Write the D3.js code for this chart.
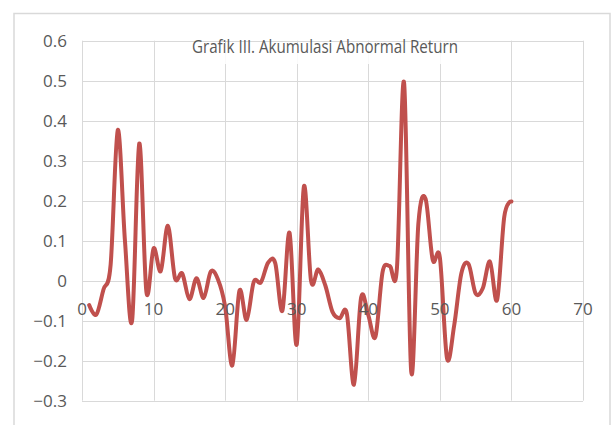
<!DOCTYPE html>
<html>
<head>
<meta charset="utf-8">
<script src="https://cdn.jsdelivr.net/npm/d3@7"></script>
<style>
  html, body { margin: 0; padding: 0; background: #fff; }
  svg { display: block; }
  .tick-label { font-family: "Open Sans", sans-serif; font-size: 17px; fill: #595959; }
</style>
</head>
<body>
<div id="chart"></div>
<script>
const title = `Grafik III. Akumulasi Abnormal Return`;
const days = [1, 2, 3, 4, 5, 6, 7, 8, 9, 10, 11, 12, 13, 14, 15, 16, 17, 18, 19, 20,
  21, 22, 23, 24, 25, 26, 27, 28, 29, 30, 31, 32, 33, 34, 35, 36, 37, 38, 39, 40,
  41, 42, 43, 44, 45, 46, 47, 48, 49, 50, 51, 52, 53, 54, 55, 56, 57, 58, 59, 60];
const car = [-0.061, -0.085, -0.022, 0.04, 0.377, 0.10, -0.10, 0.343, -0.028, 0.081,
  0.024, 0.137, 0.006, 0.018, -0.046, 0.006, -0.043, 0.023, 0.003, -0.065,
  -0.212, -0.025, -0.098, -0.003, -0.004, 0.045, 0.044, -0.075, 0.12, -0.16,
  0.235, 0.0, 0.028, -0.012, -0.078, -0.094, -0.082, -0.26, -0.042, -0.086,
  -0.14, 0.022, 0.037, 0.031, 0.495, -0.228, 0.143, 0.205, 0.052, 0.058,
  -0.194, -0.112, 0.018, 0.042, -0.032, -0.019, 0.048, -0.048, 0.16, 0.198];
const xTicks = [0, 10, 20, 30, 40, 50, 60, 70];
const yTicks = [-0.3, -0.2, -0.1, 0, 0.1, 0.2, 0.3, 0.4, 0.5, 0.6];

const width = 614;
const height = 425;
const plot = { left: 82, right: 583, top: 40.7, bottom: 400.7 };

const svg = d3.select(`#chart`).append(`svg`)
    .attr(`width`, width)
    .attr(`height`, height);

// chart area border
svg.append(`rect`)
    .attr(`x`, 14)
    .attr(`y`, 13.5)
    .attr(`width`, 596)
    .attr(`height`, 440)
    .attr(`fill`, `#fff`)
    .attr(`stroke`, `#d9d9d9`)
    .attr(`stroke-width`, 1.5);

const x = d3.scaleLinear().domain([0, 70]).range([plot.left, plot.right]);
const y = d3.scaleLinear().domain([-0.3, 0.6]).range([plot.bottom, plot.top]);

// gridlines
svg.append(`g`).selectAll(`line`)
    .data(yTicks)
  .enter().append(`line`)
    .attr(`x1`, plot.left).attr(`x2`, plot.right)
    .attr(`y1`, (d) => Math.round(y(d)) + 0.5).attr(`y2`, (d) => Math.round(y(d)) + 0.5)
    .attr(`stroke`, `#d9d9d9`);

svg.append(`g`).selectAll(`line`)
    .data(xTicks)
  .enter().append(`line`)
    .attr(`x1`, (d) => Math.round(x(d)) + 0.5).attr(`x2`, (d) => Math.round(x(d)) + 0.5)
    .attr(`y1`, plot.top).attr(`y2`, plot.bottom)
    .attr(`stroke`, `#d9d9d9`);

// y labels
svg.append(`g`).selectAll(`text`)
    .data(yTicks)
  .enter().append(`text`)
    .attr(`class`, `tick-label`)
    .attr(`x`, 67)
    .attr(`y`, (d) => y(d) + 6.5)
    .attr(`text-anchor`, `end`)
    .text((d) => d3.format(`.1f`)(d) === `0.0` ? `0` : d3.format(`.1f`)(d));

// line
const line = d3.line()
    .x((d, i) => x(days[i]))
    .y((d) => y(d))
    .curve(d3.curveCatmullRom.alpha(0));

svg.append(`path`)
    .datum(car)
    .attr(`d`, line)
    .attr(`fill`, `none`)
    .attr(`stroke`, `#c0504d`)
    .attr(`stroke-width`, 4)
    .attr(`stroke-linejoin`, `round`)
    .attr(`stroke-linecap`, `round`);

// x labels sit on the zero line
svg.append(`g`).selectAll(`text`)
    .data(xTicks)
  .enter().append(`text`)
    .attr(`class`, `tick-label`)
    .attr(`x`, (d) => x(d))
    .attr(`y`, y(0) + 34)
    .attr(`text-anchor`, `middle`)
    .text((d) => d);

// title with its white box over the top gridline
svg.append(`rect`)
    .attr(`x`, 176)
    .attr(`y`, 43)
    .attr(`width`, 330)
    .attr(`height`, 21)
    .attr(`fill`, `#fff`)
    .attr(`opacity`, 0.85);

svg.append(`text`)
    .attr(`x`, 192)
    .attr(`y`, 53)
    .attr(`textLength`, 266)
    .attr(`lengthAdjust`, `spacingAndGlyphs`)
    .style(`font-family`, `"Open Sans", sans-serif`)
    .style(`font-size`, `19px`)
    .style(`fill`, `#595959`)
    .text(title);
</script>
</body>
</html>
